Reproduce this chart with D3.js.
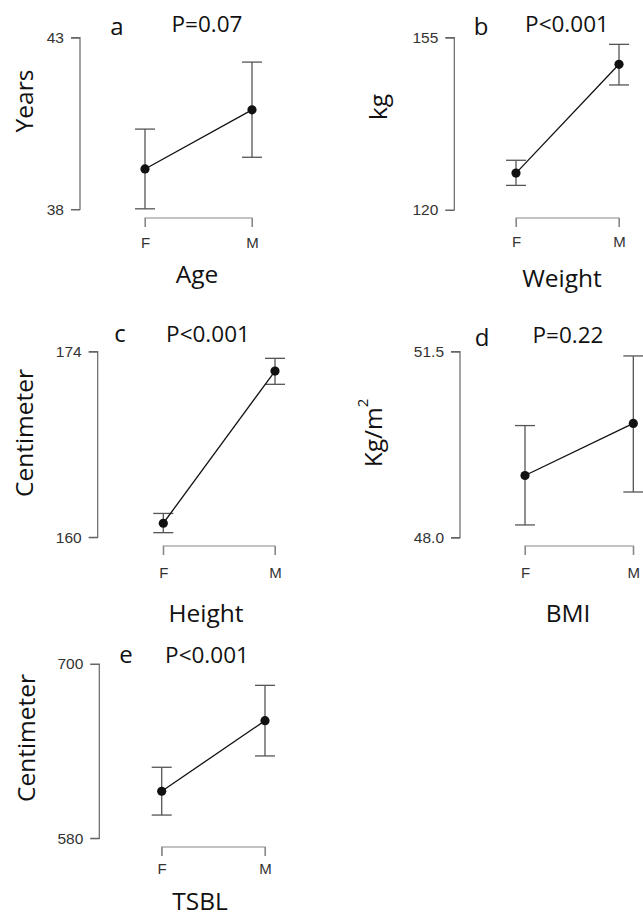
<!DOCTYPE html>
<html><head><meta charset="utf-8">
<script src="https://cdn.jsdelivr.net/npm/d3@7"></script>
<style>body{margin:0;background:#fff;} svg{display:block;}</style>
</head><body>
<script>
// ---- data ----
const panelLetters = ["a","b","c","d","e"];
const pLabels = ["P=0.07","P<0.001","P<0.001","P=0.22","P<0.001"];
const xTitles = ["Age","Weight","Height","BMI","TSBL"];
const yTitles = ["Years","kg","Centimeter","Kg/m2","Centimeter"];
const groups = ["F","M"];
const means  = [[39.18,40.90],[127.5,149.6],[161.06,172.54],[49.17,50.15],[612.4,661.0]];
const lowers = [[38.02,39.52],[125.0,145.4],[160.35,171.54],[48.24,48.86],[596.0,636.7]];
const uppers = [[40.34,42.29],[130.1,153.65],[161.8,173.5],[50.11,51.42],[628.9,685.3]];
const yDomains = [[38,43],[120,155],[160,174],[48,51.5],[580,700]];
const yTickLabels = [["38","43"],["120","155"],["160","174"],["48.0","51.5"],["580","700"]];

// ---- layout ----
const layout = [
  {ax:80,   yT:37.7,  yB:209.5, fx:145,   mx:252,   br:218,   ytx:23,   yty:101, xtx:197,   xty:273,  lx:117,   ly:35,  px:207,   py:32,  tly:242},
  {ax:454.3,yT:37.7,  yB:210,   fx:516,   mx:619,   br:218,   ytx:377,  yty:107, xtx:562,   xty:277,  lx:481,   ly:35,  px:567,   py:32,  tly:241},
  {ax:97.7, yT:351.7, yB:537.3, fx:163.3, mx:275,   br:546,   ytx:23,   yty:433, xtx:206,   xty:612,  lx:120,   ly:342, px:208,   py:342, tly:572},
  {ax:460,  yT:351.7, yB:537.7, fx:525,   mx:633.3, br:546,   ytx:372,  yty:433, xtx:568,   xty:612,  lx:482,   ly:346, px:568,   py:343, tly:572},
  {ax:99.3, yT:664,   yB:838.3, fx:161.7, mx:265,   br:847,   ytx:25,   yty:738, xtx:200,   xty:900,  lx:126,   ly:663, px:207,   py:663, tly:868}
];

const W = 643, H = 917;
const titleFont = "'Open Sans', sans-serif";
const tickFont = "'Liberation Sans', Arial, sans-serif";

const svg = d3.select("body").append("svg").attr("width", W).attr("height", H);

panelLetters.forEach((letter, i) => {
  const L = layout[i];
  const g = svg.append("g");
  const y = d3.scaleLinear().domain(yDomains[i]).range([L.yB, L.yT]);
  const x = d3.scalePoint().domain(groups).range([L.fx, L.mx]);

  // y axis (range frame)
  const yAxis = d3.axisLeft(y).tickValues(yDomains[i]).tickSize(9).tickPadding(7)
    .tickFormat((d, k) => yTickLabels[i][k]);
  const ya = g.append("g").attr("transform", `translate(${L.ax},0)`).call(yAxis);
  ya.attr("font-size", null).attr("font-family", null);
  ya.select(".domain").attr("d", `M-9,${L.yT}H0V${L.yB}H-9`).attr("stroke", "#666").attr("stroke-width", 1.2);
  ya.selectAll(".tick line").attr("stroke", "#666");
  ya.selectAll(".tick text").style("font-family", tickFont).style("font-size", "15.5px").attr("fill", "#333");

  // x axis bracket
  const xAxis = d3.axisBottom(x).tickSize(9).tickPadding(6);
  const xa = g.append("g").attr("transform", `translate(0,${L.br})`).call(xAxis);
  xa.attr("font-size", null).attr("font-family", null);
  xa.select(".domain").attr("d", `M${L.fx},9V0H${L.mx}V9`).attr("stroke", "#888").attr("stroke-width", 1.2);
  xa.selectAll(".tick line").attr("stroke", "#888").attr("y2", 9);
  xa.selectAll(".tick text").style("font-family", tickFont).style("font-size", "15px").attr("fill", "#333")
    .attr("dy", null).attr("y", L.tly - L.br).attr("dominant-baseline", "central");

  // error bars
  groups.forEach((grp, k) => {
    const cx = x(grp);
    g.append("line").attr("x1", cx).attr("x2", cx).attr("y1", y(lowers[i][k])).attr("y2", y(uppers[i][k]))
      .attr("stroke", "#555").attr("stroke-width", 1.3);
    [lowers[i][k], uppers[i][k]].forEach(v => {
      g.append("line").attr("x1", cx - 10).attr("x2", cx + 10).attr("y1", y(v)).attr("y2", y(v))
        .attr("stroke", "#555").attr("stroke-width", 1.3);
    });
  });

  // connecting line
  const line = d3.line().x((d, k) => x(groups[k])).y(d => y(d));
  g.append("path").attr("d", line(means[i])).attr("fill", "none").attr("stroke", "#111").attr("stroke-width", 1.3);

  // points
  g.selectAll("circle.pt").data(means[i]).join("circle")
    .attr("cx", (d, k) => x(groups[k])).attr("cy", d => y(d)).attr("r", 4.6).attr("fill", "#111");

  // texts
  g.append("text").attr("x", L.lx).attr("y", L.ly).attr("text-anchor", "middle")
    .attr("font-family", titleFont).attr("font-size", 24).attr("fill", "#111").text(letter);
  g.append("text").attr("x", L.px).attr("y", L.py).attr("text-anchor", "middle")
    .attr("font-family", titleFont).attr("font-size", 22.5).attr("fill", "#111").text(pLabels[i]);
  g.append("text").attr("x", L.xtx).attr("y", L.xty).attr("text-anchor", "middle").attr("dominant-baseline", "central")
    .attr("font-family", titleFont).attr("font-size", 24.5).attr("fill", "#111").text(xTitles[i]);

  const yt = g.append("text").attr("transform", `translate(${L.ytx},${L.yty}) rotate(-90)`)
    .attr("text-anchor", "middle").attr("dominant-baseline", "central")
    .attr("font-family", titleFont).attr("font-size", 24.5).attr("fill", "#111");
  const yTxt = yTitles[i];
  if (yTxt.endsWith("2")) {
    yt.append("tspan").text(yTxt.slice(0, -1));
    yt.append("tspan").attr("dy", -10).attr("font-size", 15).text("2");
  } else {
    yt.text(yTxt);
  }
});
</script>
</body></html>
